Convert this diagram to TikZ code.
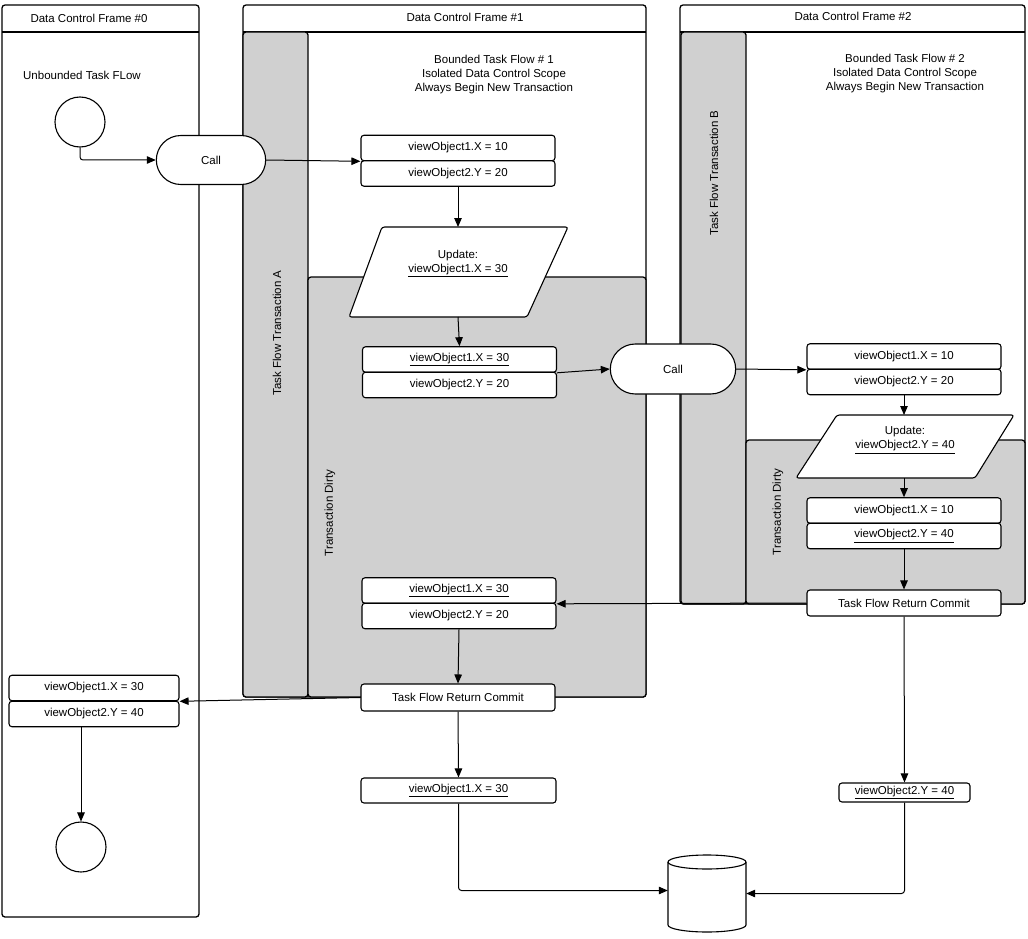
\documentclass[tikz,border=0pt]{standalone}
\usepackage{fontspec}
\setmainfont{Liberation Sans}
\usetikzlibrary{arrows.meta,shapes.geometric,shapes.misc}
\definecolor{lanegray}{RGB}{208,208,208}
\begin{document}
\begin{tikzpicture}[x=1pt,y=-1pt,
  font=\fontsize{11.5}{14}\selectfont,
  frame/.style={draw, line width=1.3pt, fill=white, rounded corners=3pt},
  hdr/.style={line width=1.3pt},
  lane/.style={draw, line width=1.3pt, fill=lanegray, rounded corners=3pt},
  vbox/.style={draw, line width=1.1pt, fill=white, rounded corners=3pt, minimum width=194pt, minimum height=25.5pt, inner sep=0pt},
  callnode/.style={draw, line width=1.1pt, fill=white, rounded rectangle, minimum width=116pt, minimum height=49pt},
  para/.style={draw, line width=1.1pt, fill=white, rounded corners=2.5pt},
  term/.style={circle, draw, line width=1.1pt, fill=white, minimum size=50pt, inner sep=0pt},
  dbline/.style={draw, line width=1.1pt, fill=white},
  arr/.style={line width=1pt, -{Triangle[length=9pt,width=7.5pt]}},
]
\useasboundingbox (0,0) rectangle (1028,939);

% frames
\draw[frame] (2,5) rectangle (199,917);
\draw[hdr] (2,32) -- (199,32);
\node (f0t) at (89,18) {Data Control Frame \#0};

\draw[frame] (243,5) rectangle (646,697);
\draw[hdr] (243,32) -- (646,32);
\node (f1t) at (465,17) {Data Control Frame \#1};

\draw[frame] (680,5) rectangle (1025,604);
\draw[hdr] (680,32) -- (1025,32);
\node (f2t) at (853,16) {Data Control Frame \#2};

% lanes
\draw[lane] (243,32) rectangle (308,697);
\draw[lane] (308,277) rectangle (646,697);
\draw[lane] (681,32) rectangle (746,604);
\draw[lane] (746,440) rectangle (1025,604);
\node[rotate=90] (lA) at (277,333) {Task Flow Transaction A};
\node[rotate=90] (lD1) at (330,513) {Transaction Dirty};
\node[rotate=90] (lB) at (714,173) {Task Flow Transaction B};
\node[rotate=90] (lD2) at (778,512) {Transaction Dirty};

% texts
\node (utf) at (82,75) {Unbounded Task FLow};
\node[align=center] (bt1) at (494,75) {Bounded Task Flow \# 1\\Isolated Data Control Scope\\Always Begin New Transaction};
\node[align=center] (bt2) at (905,74) {Bounded Task Flow \# 2\\Isolated Data Control Scope\\Always Begin New Transaction};

% parallelograms
\draw[para] (382,227) -- (568,227) -- (527,317) -- (349,317) -- cycle;
\coordinate (p1top) at (458,227);
\coordinate (p1bot) at (458,317);
\node[align=center] (p1t) at (458,263.5) {Update:\\\underline{viewObject1.X = 30}};

\draw[para] (837,415) -- (1014,415) -- (975,478) -- (796,478) -- cycle;
\coordinate (p2top) at (904,415);
\coordinate (p2bot) at (904,478);
\node[align=center] (p2t) at (905,440) {Update:\\\underline{viewObject2.Y = 40}};

% nodes
\node[term] (start) at (80,122) {};
\node[callnode] (call1) at (211,160) {Call};
\node[vbox] (b1a) at (458,148) {viewObject1.X = 10};
\node[vbox] (b1b) at (458,173.5) {viewObject2.Y = 20};
\node[vbox] (b2a) at (459.5,359.5) {\underline{viewObject1.X = 30}};
\node[vbox] (b2b) at (459.5,385) {viewObject2.Y = 20};
\node[callnode, minimum width=132pt, minimum height=50pt] (call2) at (673,369) {Call};
\node[vbox] (b3a) at (904,356.5) {viewObject1.X = 10};
\node[vbox] (b3b) at (904,382) {viewObject2.Y = 20};
\node[vbox] (b4a) at (904,510.5) {viewObject1.X = 10};
\node[vbox] (b4b) at (904,536) {\underline{viewObject2.Y = 40}};
\node[vbox, minimum height=26pt] (c2) at (904,603) {Task Flow Return Commit};
\node[vbox] (b5a) at (459,590.5) {\underline{viewObject1.X = 30}};
\node[vbox] (b5b) at (459,616) {viewObject2.Y = 20};
\node[vbox, minimum height=27pt] (c1) at (458,697.5) {Task Flow Return Commit};
\node[vbox, minimum width=170pt] (b6a) at (94,688) {viewObject1.X = 30};
\node[vbox, minimum width=170pt] (b6b) at (94,714) {viewObject2.Y = 40};
\node[term] (endc) at (81,847) {};
\node[vbox, minimum width=195pt, minimum height=25pt] (b7) at (458.5,790.5) {\underline{viewObject1.X = 30}};
\node[vbox, minimum width=131pt, minimum height=19pt] (b8) at (904.5,792.5) {\underline{viewObject2.Y = 40}};

% database cylinder
\node[minimum width=78pt, minimum height=77pt, inner sep=0pt] (db) at (707,893.5) {};
\path[dbline] (668,862) -- (668,925) arc[start angle=180, end angle=0, x radius=39, y radius=7]
  -- (746,862) arc[start angle=0, end angle=-180, x radius=39, y radius=7] -- cycle;
\draw[line width=1.1pt] (668,862) arc[start angle=180, end angle=0, x radius=39, y radius=7];

% connectors
\draw[arr, rounded corners=3pt] (start.south) |- (call1.west);
\draw[arr] (call1.east) -- (b1a.south west);
\draw[arr] (b1b.south) -- (p1top);
\draw[arr] (p1bot) -- (b2a.north);
\draw[arr] (b2a.south east) -- (call2.west);
\draw[arr] (call2.east) -- (b3a.south west);
\draw[arr] (b3b.south) -- (p2top);
\draw[arr] (p2bot) -- (b4a.north);
\draw[arr] (b4b.south) -- (c2.north);
\draw[arr] (c2.west) -- (b5a.south east);
\draw[arr] (b5b.south) -- (c1.north);
\draw[arr] (c1.west) -- (b6a.south east);
\draw[arr] (b6b.south -| endc.north) -- (endc.north);
\draw[arr] (c1.south) -- (b7.north);
\draw[arr, rounded corners=3pt] (b7.south) |- ([yshift=3pt]db.west);
\draw[arr] (c2.south) -- (b8.north);
\draw[arr, rounded corners=3pt] (b8.south) |- (db.east);
\end{tikzpicture}
\end{document}
